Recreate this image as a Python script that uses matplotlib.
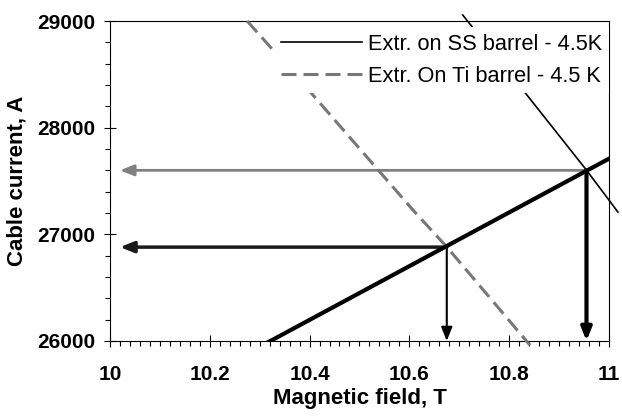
import matplotlib
matplotlib.use('Agg')
import matplotlib.pyplot as plt
from matplotlib.ticker import MultipleLocator

plt.rcParams['font.family'] = ['Liberation Sans', 'DejaVu Sans']

# Load line (cable current vs peak field)
b_load = [10.0, 11.0]
i_load = [25190, 27709]

# Extracted short-sample limit, SS barrel, 4.5 K
b_ss = [10.707, 10.834, 10.955, 11.018]
i_ss = [29056, 28316, 27602, 27209]

# Extracted short-sample limit, Ti barrel, 4.5 K
b_ti = [10.275, 10.405, 10.607, 10.675, 10.842]
i_ti = [29000, 28316, 27229, 26882, 25960]

# Operating points (intersection of load line with the limits)
op_b = [10.675, 10.955]
op_i = [26880, 27600]

legend_labels = ['Extr. on SS barrel - 4.5K', 'Extr. On Ti barrel - 4.5 K']

fig = plt.figure(figsize=(6.22, 4.17), dpi=100)
ax = fig.add_axes([0.1768, 0.1823, 0.8022, 0.7673])
ax.set_xlim(10, 11)
ax.set_ylim(26000, 29000)

ax.plot(b_ss, i_ss, color='black', lw=1.2, clip_on=False, label=legend_labels[0], zorder=3)
ax.plot(b_ti, i_ti, color='#777777', lw=2.2, dashes=(4.9, 2.3), clip_on=False,
        label=legend_labels[1], zorder=3)
ax.plot(b_load, i_load, color='black', lw=3.0, zorder=4)

head = '-|>,head_length=0.55,head_width=0.22'
x_end = 10.02
y_end = 26000

# horizontal arrows to the current axis
ax.annotate('', xy=(x_end, op_i[1]), xytext=(op_b[1], op_i[1]),
            arrowprops=dict(arrowstyle=head, mutation_scale=15, lw=2.0,
                            color='#808080', shrinkA=0, shrinkB=0), zorder=2)
ax.annotate('', xy=(x_end, op_i[0]), xytext=(op_b[0], op_i[0]),
            arrowprops=dict(arrowstyle=head, mutation_scale=15, lw=2.5,
                            color='#1a1a1a', shrinkA=0, shrinkB=0), zorder=2)
# vertical arrows to the field axis
ax.annotate('', xy=(op_b[0], y_end), xytext=(op_b[0], op_i[0]),
            arrowprops=dict(arrowstyle=head, mutation_scale=15, lw=1.5,
                            color='black', shrinkA=0, shrinkB=0), zorder=2)
ax.annotate('', xy=(op_b[1], y_end), xytext=(op_b[1], op_i[1]),
            arrowprops=dict(arrowstyle=head, mutation_scale=14, lw=3.0,
                            color='black', shrinkA=0, shrinkB=0), zorder=2)

# ticks
ax.xaxis.set_major_locator(MultipleLocator(0.2))
ax.xaxis.set_minor_locator(MultipleLocator(0.02))
ax.yaxis.set_major_locator(MultipleLocator(1000))
ax.yaxis.set_minor_locator(MultipleLocator(200))
ax.set_xticks([10, 10.2, 10.4, 10.6, 10.8, 11])
ax.set_xticklabels(['10', '10.2', '10.4', '10.6', '10.8', '11'])
ax.tick_params(axis='both', which='major', direction='inout', length=9, width=0.8,
               labelsize=15)
ax.tick_params(axis='both', which='minor', direction='out', length=3.5, width=0.8)
ax.tick_params(axis='x', which='major', pad=13)
ax.tick_params(axis='y', which='major', pad=6)
for lab in ax.get_xticklabels() + ax.get_yticklabels():
    lab.set_fontweight('bold')
for sp in ax.spines.values():
    sp.set_linewidth(0.8)

ax.set_xlabel('Magnetic field, T', fontsize=16, fontweight='bold')
ax.set_ylabel('Cable current, A', fontsize=16, fontweight='bold')
ax.xaxis.set_label_coords(0.5, -0.147)
ax.yaxis.set_label_coords(-0.166, 0.5)

leg = ax.legend(loc='upper right', bbox_to_anchor=(1.0, 0.98), fontsize=15.7,
                handlelength=3.7, handletextpad=0.28, labelspacing=0.5,
                borderaxespad=0, borderpad=0.3, frameon=True, fancybox=False)
leg.get_frame().set_facecolor('white')
leg.get_frame().set_edgecolor('none')
leg.get_frame().set_alpha(1)
leg.set_zorder(10)

fig.savefig('out.png', dpi=100, facecolor='white')
